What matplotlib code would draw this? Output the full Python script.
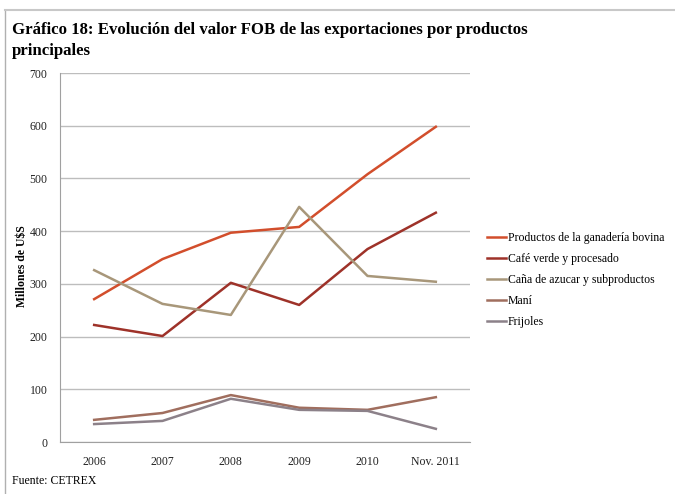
import matplotlib.pyplot as plt
from matplotlib.lines import Line2D

years = ['2006', '2007', '2008', '2009', '2010', 'Nov. 2011']
bovina = [271, 347, 397, 408, 508, 598]
cafe = [222, 201, 302, 260, 366, 435]
cana = [326, 262, 241, 446, 315, 304]
mani = [42, 55, 89, 65, 61, 85]
frijoles = [34, 40, 82, 61, 59, 25]

series = [
    ('Productos de la ganadería bovina', bovina, '#D24E2C'),
    ('Café verde y procesado', cafe, '#9E3229'),
    ('Caña de azucar y subproductos', cana, '#A8977A'),
    ('Maní', mani, '#A06E5E'),
    ('Frijoles', frijoles, '#8C8189'),
]

plt.rcParams['font.family'] = ['Liberation Serif', 'DejaVu Serif']

W, H = 675, 494
fig = plt.figure(figsize=(W / 100, H / 100), dpi=100)

# page frame
fig.add_artist(Line2D([5 / W, 5 / W], [0, 1 - 10 / H], color='#b0b0b0', lw=1))
fig.add_artist(Line2D([5 / W, 1], [1 - 10 / H, 1 - 10 / H], color='#c8c8c8', lw=1.5))

ax = fig.add_axes([60 / W, 1 - 442 / H, 410 / W, 369 / H])

x = list(range(len(years)))
for name, vals, col in series:
    ax.plot(x, vals, color=col, lw=1.8, label=name)

ax.set_xlim(-0.5, len(years) - 0.5)
ax.set_ylim(0, 700)
ax.set_yticks(range(0, 701, 100))
ax.set_xticks(x)
ax.set_xticklabels(years)
ax.tick_params(axis='both', length=0, labelsize=8.5, colors='#222222')
ax.tick_params(axis='x', pad=10)
ax.tick_params(axis='y', pad=9)
ax.yaxis.grid(True, color='#bdbdbd', lw=1)
ax.set_axisbelow(True)
for s in ['top', 'right']:
    ax.spines[s].set_visible(False)
ax.spines['left'].set_color('#a0a0a0')
ax.spines['bottom'].set_color('#a0a0a0')

fig.text(22 / W, 1 - 266 / H, 'Millones de U$S', fontsize=8.5, fontweight='bold',
         rotation=90, ha='center', va='center')

ax.legend(loc='center left', bbox_to_anchor=(476 / W, 1 - 280 / H),
          bbox_transform=fig.transFigure, frameon=False, fontsize=8.5,
          handlelength=1.6, handletextpad=0.2, labelspacing=0.75)

fig.text(12 / W, 1 - 30 / H, 'Gráfico 18: Evolución del valor FOB de las exportaciones por productos',
         fontsize=12.1, fontweight='bold', va='center', ha='left')
fig.text(12 / W, 1 - 51 / H, 'principales', fontsize=12.1, fontweight='bold', va='center', ha='left')
fig.text(12 / W, 1 - 481 / H, 'Fuente: CETREX', fontsize=8.5, va='center', ha='left')

fig.savefig('out.png', dpi=100)
